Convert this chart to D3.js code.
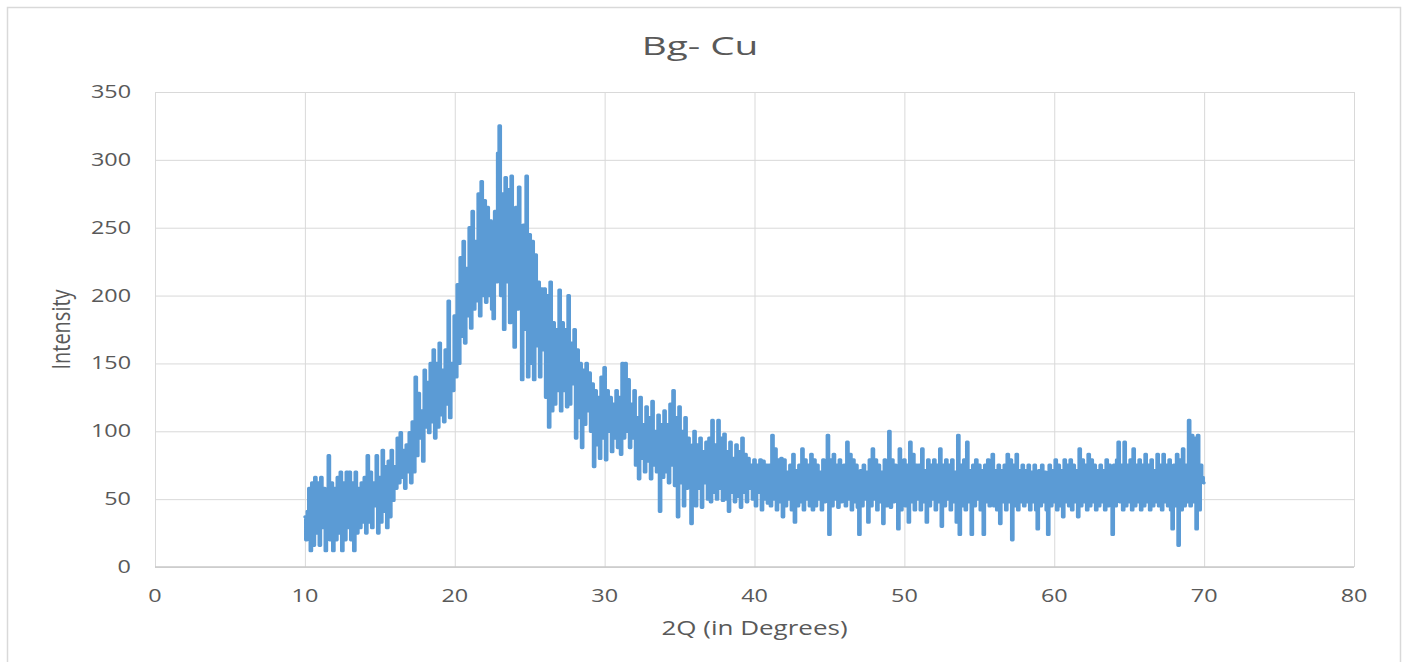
<!DOCTYPE html>
<html>
<head>
<meta charset="utf-8">
<script src="https://cdn.jsdelivr.net/npm/d3@7"></script>
<style>
  body { margin: 0; background: #fff; }
  svg text { font-family: "Open Sans", sans-serif; fill: #595959; }
</style>
</head>
<body>
<div id="chart"></div>
<script>
const angleStart = 10;
const angleStep = 0.1;

// 10.0 - 19.9
const risingEdge = [
  37, 20, 41, 58, 12, 62, 16, 66, 25, 62,
  16, 66, 29, 58, 12, 49, 82, 20, 62, 12,
  58, 20, 66, 25, 70, 12, 62, 20, 70, 29,
  70, 20, 62, 12, 70, 25, 58, 29, 62, 33,
  66, 25, 82, 33, 70, 29, 62, 45, 82, 25,
  66, 33, 86, 41, 74, 29, 78, 37, 86, 49,
  74, 58, 95, 62, 99, 66, 86, 58, 90, 70,
  99, 62, 107, 70, 140, 82, 128, 95, 115, 78,
  145, 103, 136, 99, 150, 107, 160, 95, 150, 103,
  165, 112, 145, 107, 160, 120, 196, 110, 150, 130
];
// 20.0 - 29.9
const peak = [
  185, 140, 208, 150, 228, 170, 240, 165, 220, 185,
  250, 176, 262, 190, 240, 196, 275, 185, 284, 200,
  270, 195, 265, 200, 255, 190, 183, 262, 210, 305,
  325, 200, 275, 175, 287, 210, 278, 180, 288, 210,
  162, 265, 190, 280, 200, 138, 252, 175, 288, 140,
  245, 150, 240, 138, 230, 163, 210, 140, 205, 160,
  205, 125, 200, 103, 210, 115, 180, 120, 175, 130,
  204, 115, 180, 130, 175, 118, 200, 120, 165, 135,
  175, 95, 160, 110, 150, 88, 145, 105, 150, 115,
  143, 100, 135, 74, 130, 90, 125, 80, 140, 95
];
// 30.0 - 39.9
const tail = [
  147, 79, 130, 100, 125, 85, 120, 95, 130, 88,
  125, 83, 150, 95, 150, 100, 138, 88, 120, 95,
  130, 75, 110, 65, 125, 80, 105, 70, 118, 78,
  110, 65, 122, 75, 100, 70, 112, 41, 105, 66,
  115, 70, 105, 62, 120, 75, 130, 60, 110, 37,
  118, 62, 100, 45, 110, 58, 95, 66, 32, 90,
  100, 45, 90, 58, 95, 44, 85, 62, 92, 50,
  95, 48, 108, 55, 90, 50, 108, 58, 95, 49,
  98, 50, 85, 41, 92, 55, 80, 48, 90, 52,
  85, 44, 95, 55, 83, 48, 80, 58, 75, 50
];
// 40.0 - 54.9
const baselineA = [
  79, 45, 75, 55, 79, 42, 78, 50, 75, 47,
  75, 45, 97, 50, 87, 42, 79, 48, 80, 37,
  79, 45, 70, 50, 75, 42, 83, 33, 71, 45,
  75, 48, 87, 42, 79, 50, 75, 45, 83, 42,
  79, 45, 75, 50, 70, 42, 79, 48, 75, 97,
  24, 79, 45, 83, 50, 75, 44, 79, 48, 70,
  75, 45, 92, 50, 83, 42, 79, 48, 75, 44,
  24, 71, 45, 75, 50, 70, 33, 79, 45, 87,
  50, 79, 42, 75, 48, 70, 32, 79, 45, 75,
  100, 44, 79, 48, 75, 50, 28, 87, 42, 75,
  79, 45, 75, 33, 92, 48, 83, 42, 75, 50,
  75, 42, 87, 48, 71, 33, 79, 45, 75, 50,
  79, 42, 75, 48, 87, 30, 75, 45, 79, 50,
  75, 42, 79, 48, 70, 33, 97, 24, 75, 45,
  79, 42, 92, 48, 71, 24, 75, 45, 79, 50
];
// 55.0 - 70.0
const baselineB = [
  75, 42, 71, 24, 75, 48, 79, 45, 70, 83,
  45, 71, 42, 75, 32, 71, 48, 75, 42, 83,
  48, 79, 20, 75, 45, 83, 42, 71, 48, 75,
  45, 71, 48, 75, 42, 70, 48, 75, 42, 28,
  71, 45, 75, 48, 70, 42, 24, 75, 45, 71,
  48, 79, 42, 75, 45, 71, 37, 79, 48, 75,
  45, 79, 42, 75, 48, 71, 37, 87, 45, 79,
  48, 75, 42, 83, 45, 79, 48, 75, 42, 71,
  45, 75, 48, 71, 42, 79, 45, 75, 50, 24,
  75, 45, 79, 92, 48, 75, 42, 92, 45, 75,
  48, 79, 42, 87, 45, 75, 48, 79, 42, 75,
  45, 83, 48, 75, 42, 79, 45, 71, 48, 83,
  45, 75, 42, 83, 48, 75, 45, 79, 42, 28,
  75, 45, 83, 16, 79, 42, 87, 45, 75, 48,
  108, 45, 97, 48, 95, 28, 97, 42, 75, 66,
  62
];

const xTickValues = [0, 10, 20, 30, 40, 50, 60, 70, 80];
const yTickValues = [0, 50, 100, 150, 200, 250, 300, 350];

const titleText = "Bg- Cu";
const xTitleText = "2Q (in Degrees)";
const yTitleText = "Intensity";

const intensity = risingEdge.concat(peak, tail, baselineA, baselineB);
const data = intensity.map((v, i) => ({ angle: angleStart + i * angleStep, value: v }));

const W = 1408, H = 662;
const margin = { top: 92, right: 54, bottom: 95, left: 155 };
const sx = 1.3; // the source chart is stretched sideways

const svg = d3.select("#chart").append("svg")
  .attr("width", W)
  .attr("height", H);

// chart area border
svg.append("rect")
  .attr("x", 7.5).attr("y", 7.5)
  .attr("width", 1393).attr("height", 700)
  .attr("fill", "#fff")
  .attr("stroke", "#d9d9d9")
  .attr("stroke-width", 1.5);

const x = d3.scaleLinear().domain([0, 80]).range([margin.left, W - margin.right]);
const y = d3.scaleLinear().domain([0, 350]).range([H - margin.bottom, margin.top]);

// gridlines via axes
svg.append("g")
  .attr("transform", `translate(0,${H - margin.bottom})`)
  .call(d3.axisBottom(x).tickValues(xTickValues).tickSize(-(y.range()[0] - y.range()[1])).tickFormat(""))
  .call(g => g.select(".domain").remove())
  .call(g => g.selectAll("line").attr("stroke", "#d9d9d9"));

svg.append("g")
  .attr("transform", `translate(${margin.left},0)`)
  .call(d3.axisLeft(y).tickValues(yTickValues).tickSize(-(x.range()[1] - x.range()[0])).tickFormat(""))
  .call(g => g.select(".domain").remove())
  .call(g => g.selectAll("line").attr("stroke", "#d9d9d9"));

// bottom axis line
svg.append("line")
  .attr("x1", x(0)).attr("x2", x(80))
  .attr("y1", y(0)).attr("y2", y(0))
  .attr("stroke", "#c8c8c8").attr("stroke-width", 1.5);

// tick labels
svg.append("g").selectAll("text")
  .data(yTickValues)
  .join("text")
  .attr("text-anchor", "end")
  .attr("transform", d => `translate(${margin.left - 24},${y(d) + 6}) scale(${sx},1)`)
  .style("font-size", "18px")
  .text(d => d);

svg.append("g").selectAll("text")
  .data(xTickValues)
  .join("text")
  .attr("text-anchor", "middle")
  .attr("transform", d => `translate(${x(d)},${y(0) + 35}) scale(${sx},1)`)
  .style("font-size", "18px")
  .text(d => d);

// the scan, drawn as steps like the dense original trace
svg.append("path")
  .datum(data)
  .attr("fill", "none")
  .attr("stroke", "#5b9bd5")
  .attr("stroke-width", 3.2)
  .attr("stroke-linejoin", "round")
  .attr("stroke-linecap", "round")
  .attr("d", d3.line().curve(d3.curveStep).x(d => x(d.angle)).y(d => y(d.value)));

// titles
svg.append("text")
  .attr("text-anchor", "middle")
  .attr("transform", `translate(700,55) scale(1.55,1)`)
  .style("font-size", "25px")
  .text(titleText);

svg.append("text")
  .attr("text-anchor", "middle")
  .attr("transform", `translate(${(x(0) + x(80)) / 2},635) scale(${sx},1)`)
  .style("font-size", "20px")
  .text(xTitleText);

svg.append("text")
  .attr("text-anchor", "middle")
  .attr("transform", `translate(70,${(y(0) + y(350)) / 2}) rotate(-90) scale(1,${sx})`)
  .style("font-size", "20px")
  .text(yTitleText);
</script>
</body>
</html>
